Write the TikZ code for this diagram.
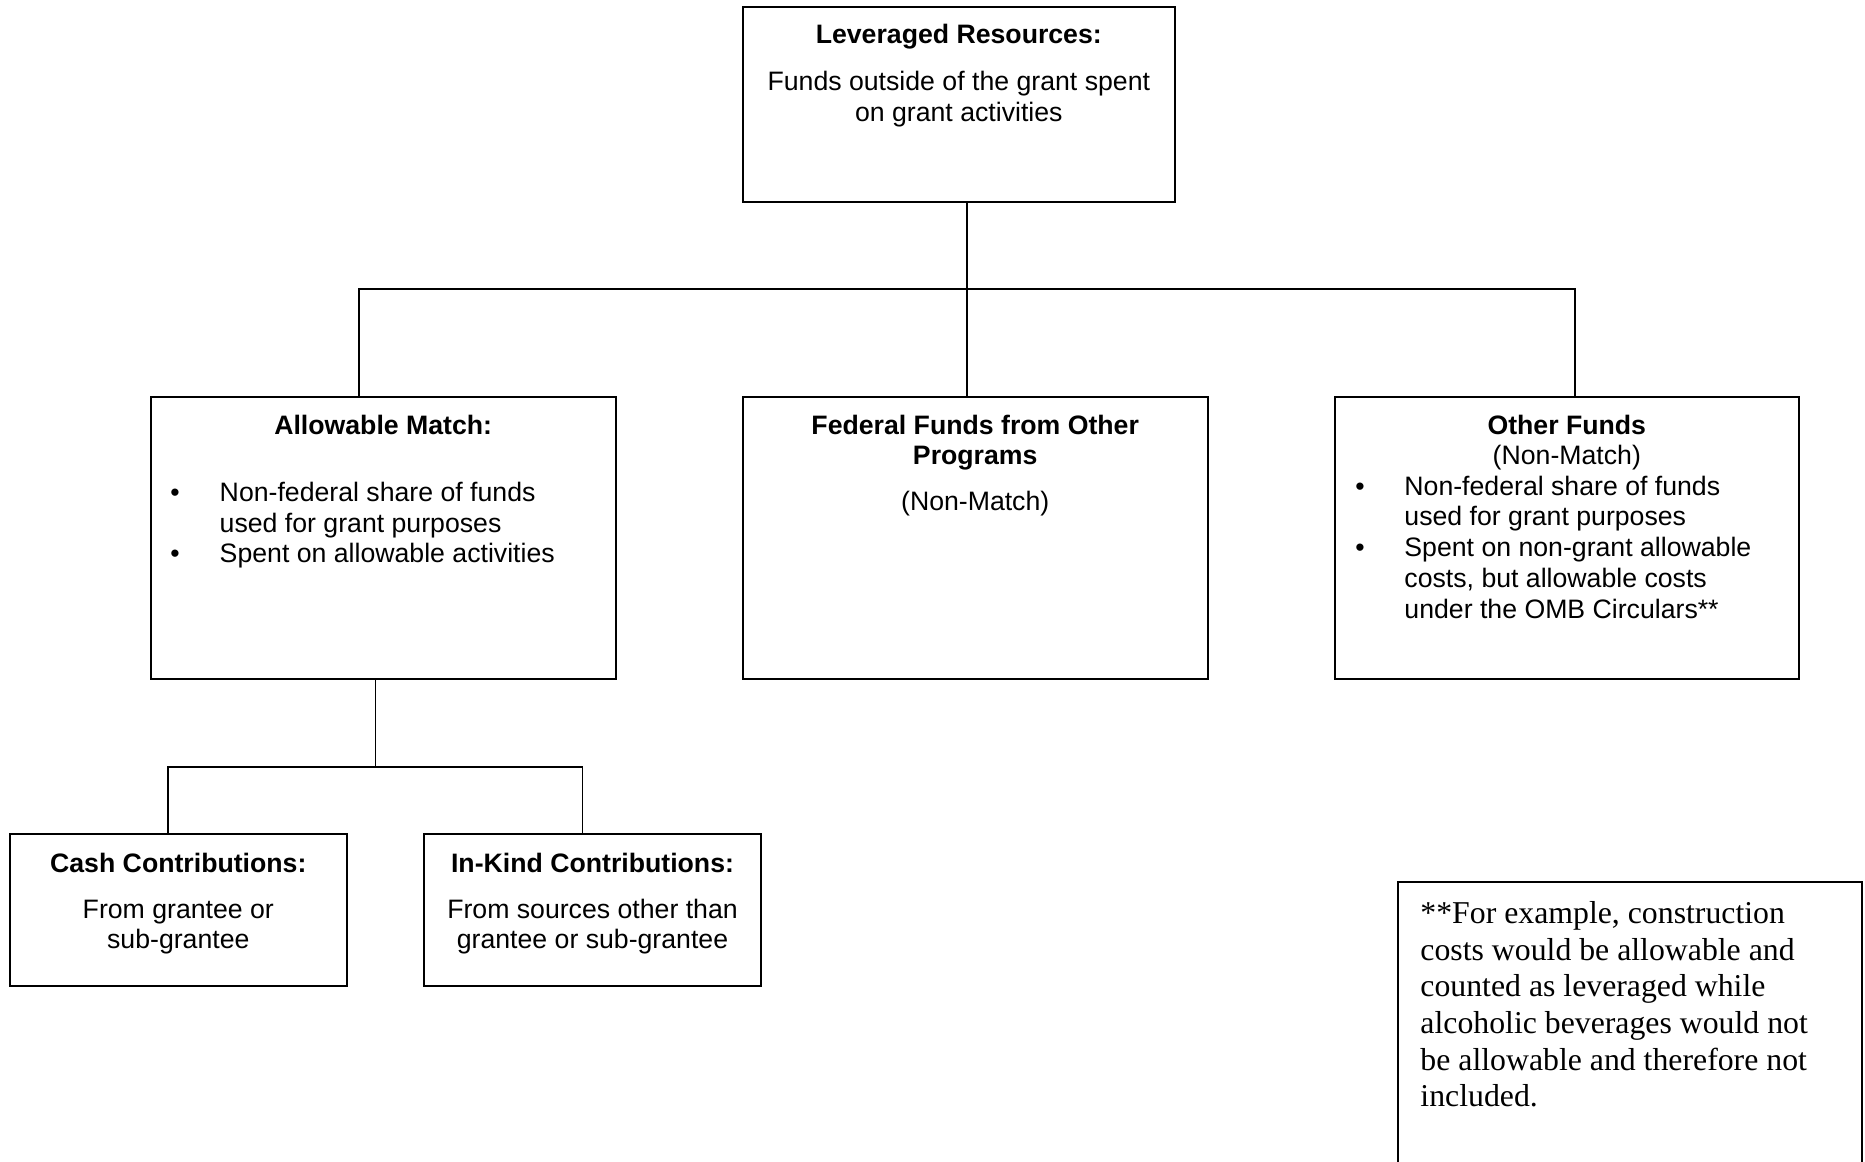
\documentclass[tikz,border=0pt]{standalone}
\usepackage{fontspec}
\setmainfont{Liberation Sans}
\newfontfamily\notefont{Liberation Serif}
\usetikzlibrary{fit}
\begin{document}
\begin{tikzpicture}[x=0.45pt,y=-0.45pt,
  box/.style={draw, line width=0.8pt, inner sep=0pt},
  conn/.style={line width=0.8pt},
  txt/.style={inner sep=0pt, anchor=base, yshift=-0.9pt, font=\fontsize{12pt}{13.8pt}\selectfont},
  ttl/.style={inner sep=0pt, anchor=base, yshift=-0.9pt, font=\fontsize{12pt}{13.8pt}\selectfont\bfseries},
  lft/.style={inner sep=0pt, anchor=base west, yshift=-0.9pt, font=\fontsize{12pt}{13.8pt}\selectfont},
  bul/.style={inner sep=0pt, anchor=base, yshift=-0.9pt, font=\fontsize{12pt}{13.8pt}\selectfont},
  note/.style={inner sep=0pt, anchor=base west, font=\notefont\fontsize{14.3pt}{16.5pt}\selectfont}]
\useasboundingbox (0,0) rectangle (1865,1162);
\fill[white] (0,0) rectangle (1865,1162);

% boxes
\node[box, fit={(742.7,7) (1175,202)}] (top) {};
\node[box, fit={(150.7,397) (615.7,679)}] (am) {};
\node[box, fit={(742.7,397) (1207.7,679)}] (fed) {};
\node[box, fit={(1334.7,397) (1799,679)}] (of) {};
\node[box, fit={(10,834) (346.7,985.7)}] (cash) {};
\node[box, fit={(424,834) (761,985.7)}] (ink) {};
\node[box, fit={(1398,882) (1862,1185)}] (fn) {};

% connectors
\coordinate (j1) at (967,289);
\coordinate (jl) at (359,289);
\coordinate (jr) at (1575,289);
\draw[conn] (top.south -| j1) -- (fed.north -| j1);
\draw[conn] (am.north -| jl) |- (jr) -- (of.north -| jr);
\coordinate (k1) at (375.6,767);
\coordinate (kl) at (167.7,767);
\coordinate (kr) at (582.6,767);
\draw[conn] (am.south -| k1) -- (k1);
\draw[conn] (cash.north -| kl) |- (kr) -- (ink.north -| kr);

% top box text
\node[ttl] (t1) at (958.8,41.7) {Leveraged Resources:};
\node[txt] (t2) at (958.8,88.8) {Funds outside of the grant spent};
\node[txt] (t3) at (958.8,119.5) {on grant activities};

% allowable match
\node[ttl] (a1) at (383.2,432.3) {Allowable Match:};
\node[bul] (ab1) at (175,500) {•};
\node[lft] (a2) at (219.3,500) {Non-federal share of funds};
\node[lft] (a3) at (219.3,530.7) {used for grant purposes};
\node[bul] (ab2) at (175,561) {•};
\node[lft] (a4) at (219.3,561) {Spent on allowable activities};

% federal funds
\node[ttl] (f1) at (975.2,432.3) {Federal Funds from Other};
\node[ttl] (f2) at (975.2,462.7) {Programs};
\node[txt] (f3) at (975.2,509) {(Non-Match)};

% other funds
\node[ttl] (o1) at (1566.8,432.3) {Other Funds};
\node[txt] (o2) at (1566.8,462.7) {(Non-Match)};
\node[bul] (ob1) at (1360,493.3) {•};
\node[lft] (o3) at (1404,493.3) {Non-federal share of funds};
\node[lft] (o4) at (1404,524) {used for grant purposes};
\node[bul] (ob2) at (1360,554.7) {•};
\node[lft] (o5) at (1404,554.7) {Spent on non-grant allowable};
\node[lft] (o6) at (1404,585.4) {costs, but allowable costs};
\node[lft] (o7) at (1404,616) {under the OMB Circulars**};

% cash
\node[ttl] (c1) at (178.3,870) {Cash Contributions:};
\node[txt] (c2) at (178.3,916.7) {From grantee or};
\node[txt] (c3) at (178.3,946.7) {sub-grantee};

% in-kind
\node[ttl] (i1) at (592.5,870) {In-Kind Contributions:};
\node[txt] (i2) at (592.5,916.7) {From sources other than};
\node[txt] (i3) at (592.5,946.7) {grantee or sub-grantee};

% footnote
\node[note] (n1) at (1420,923.3) {**For example, construction};
\node[note] (n2) at (1420,960) {costs would be allowable and};
\node[note] (n3) at (1420,996.7) {counted as leveraged while};
\node[note] (n4) at (1420,1033.3) {alcoholic beverages would not};
\node[note] (n5) at (1420,1070) {be allowable and therefore not};
\node[note] (n6) at (1420,1106.7) {included.};
\end{tikzpicture}
\end{document}
